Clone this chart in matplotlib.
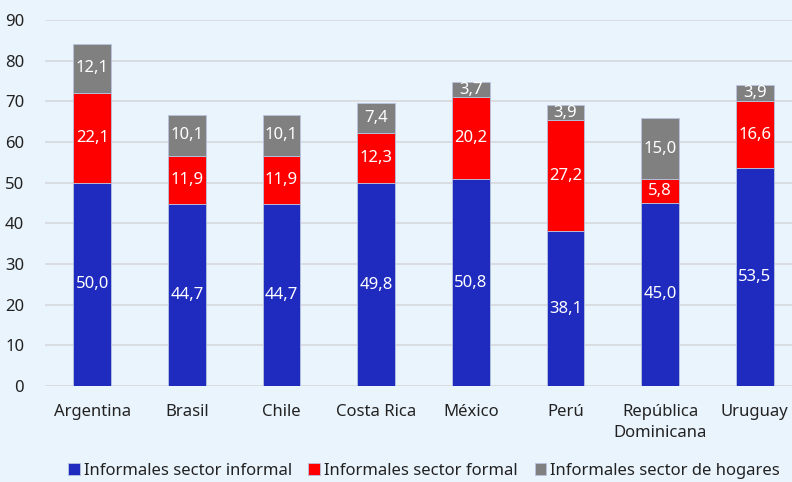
import matplotlib.pyplot as plt
import numpy as np

paises = ['Argentina', 'Brasil', 'Chile', 'Costa Rica', 'México', 'Perú',
          'República\nDominicana', 'Uruguay']
sector_informal = [50.0, 44.7, 44.7, 49.8, 50.8, 38.1, 45.0, 53.5]
sector_formal = [22.1, 11.9, 11.9, 12.3, 20.2, 27.2, 5.8, 16.6]
sector_hogares = [12.1, 10.1, 10.1, 7.4, 3.7, 3.9, 15.0, 3.9]
series = ['Informales sector informal', 'Informales sector formal',
          'Informales sector de hogares']
colores = ['#1f2bbf', '#ff0000', '#808080']

plt.rcParams['font.family'] = ['Noto Sans', 'DejaVu Sans']
fondo = '#eaf4fd'

fig = plt.figure(figsize=(7.92, 4.82), dpi=100, facecolor=fondo)
ax = fig.add_axes([45/792, 96/482, 757/792, 366/482], facecolor=fondo)

x = np.arange(len(paises))
base = np.zeros(len(paises))
for datos, color, nombre in zip([sector_informal, sector_formal, sector_hogares], colores, series):
    datos = np.array(datos)
    ax.bar(x, datos, 0.4, bottom=base, color=color, label=nombre,
           edgecolor='#b8c4e0', linewidth=0.6, zorder=3)
    for xi, b, v in zip(x, base, datos):
        ax.text(xi, b + v/2, f'{v:.1f}'.replace('.', ','), ha='center', va='center',
                color='white', fontsize=12, zorder=4)
    base = base + datos

ax.set_xlim(-0.5, len(paises) - 0.5)
ax.set_ylim(0, 90)
ax.set_yticks(range(0, 91, 10))
ax.set_xticks(x)
ax.set_xticklabels(paises, fontsize=12, color='#222222', linespacing=1.45)
ax.tick_params(axis='y', labelsize=12, colors='#222222', length=0, pad=15)
ax.tick_params(axis='x', length=0, pad=13)
ax.grid(axis='y', color='#d6d9dc', linewidth=1.2, zorder=0)
for s in ax.spines.values():
    s.set_visible(False)

fig.legend(loc='center', bbox_to_anchor=(424/792, 1 - 471/482), ncol=3, frameon=False,
           fontsize=12, handlelength=0.7, handleheight=0.7, handletextpad=0.25,
           columnspacing=1.0, labelcolor='#222222')

fig.savefig('out.png', dpi=100, facecolor=fondo)
